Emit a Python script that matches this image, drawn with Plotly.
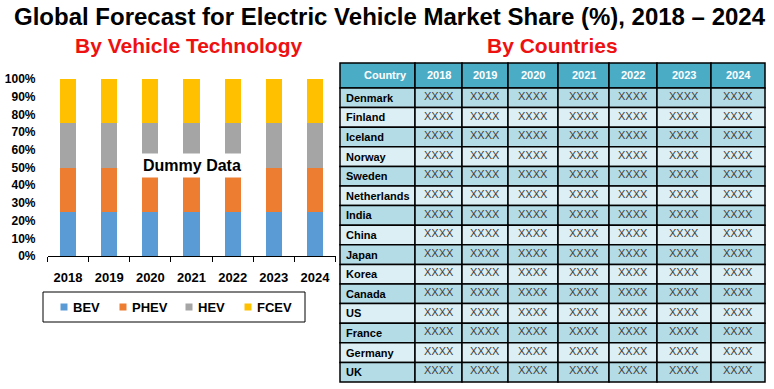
import plotly.graph_objects as go

years = ["2018", "2019", "2020", "2021", "2022", "2023", "2024"]
bev = [25, 25, 25, 25, 25, 25, 25]
phev = [25, 25, 25, 25, 25, 25, 25]
hev = [25, 25, 25, 25, 25, 25, 25]
fcev = [25, 25, 25, 25, 25, 25, 25]
series_names = ["BEV", "PHEV", "HEV", "FCEV"]
series_colors = ["#5B9BD5", "#ED7D31", "#A5A5A5", "#FFC000"]

countries = ["Denmark", "Finland", "Iceland", "Norway", "Sweden", "Netherlands", "India",
             "China", "Japan", "Korea", "Canada", "US", "France", "Germany", "UK"]
table_header = ["Country"] + years
cell_value = "XXXX"

W, H = 774, 389
FONT = "Liberation Sans, Arial, sans-serif"


def px_x(p):
    return p / W


def px_y(p):
    return 1 - p / H


fig = go.Figure()

for name, vals, col in zip(series_names, [bev, phev, hev, fcev], series_colors):
    fig.add_trace(go.Bar(x=years, y=vals, name=name, marker_color=col,
                         marker_line_width=0, showlegend=False))

shapes = []
annotations = []

# ---- legend (drawn as a boxed key under the bar chart) ----
leg_box = (43, 292, 305, 322)
leg_marker_x = [64, 123, 189, 248]
shapes.append(dict(type="rect", xref="paper", yref="paper",
                   x0=px_x(leg_box[0]), x1=px_x(leg_box[2]),
                   y0=px_y(leg_box[3]), y1=px_y(leg_box[1]),
                   line=dict(color="black", width=1), fillcolor="white"))
leg_cy = (leg_box[1] + leg_box[3]) / 2
for name, col, mx in zip(series_names, series_colors, leg_marker_x):
    shapes.append(dict(type="rect", xref="paper", yref="paper",
                       x0=px_x(mx - 3.5), x1=px_x(mx + 3.5),
                       y0=px_y(leg_cy + 3.5), y1=px_y(leg_cy - 3.5),
                       line=dict(width=0), fillcolor=col))
    annotations.append(dict(text="<b>%s</b>" % name, x=px_x(mx + 7), y=px_y(leg_cy),
                            xref="paper", yref="paper", xanchor="left", yanchor="middle",
                            showarrow=False,
                            font=dict(size=13, family=FONT, color="black")))

# ---- table (cells as rectangles, text as annotations) ----
col_widths = [75, 47, 46, 50, 51, 48, 54, 54]
tbl_left, tbl_top, header_h, row_h = 340, 63, 25, 19.6
col_edges = [tbl_left]
for w in col_widths:
    col_edges.append(col_edges[-1] + w)
dark, light = "#B4DCE7", "#DCEFF4"

for j, h in enumerate(table_header):
    x0, x1 = col_edges[j], col_edges[j + 1]
    shapes.append(dict(type="rect", xref="paper", yref="paper",
                       x0=px_x(x0), x1=px_x(x1), y0=px_y(tbl_top + header_h), y1=px_y(tbl_top),
                       line=dict(color="black", width=1.5), fillcolor="#4BACC6"))
    if j == 0:
        ax, xa = x1 - 6, "right"
    else:
        ax, xa = (x0 + x1) / 2, "center"
    annotations.append(dict(text="<b>%s</b>" % h, x=px_x(ax), y=px_y(tbl_top + header_h / 2),
                            xref="paper", yref="paper", xanchor=xa, yanchor="middle",
                            showarrow=False, font=dict(size=11, family=FONT, color="white")))

for i, c in enumerate(countries):
    r0 = tbl_top + header_h + i * row_h
    r1 = r0 + row_h
    fillc = dark if i % 2 == 0 else light
    for j in range(len(table_header)):
        x0, x1 = col_edges[j], col_edges[j + 1]
        shapes.append(dict(type="rect", xref="paper", yref="paper",
                           x0=px_x(x0), x1=px_x(x1), y0=px_y(r1), y1=px_y(r0),
                           line=dict(color="black", width=1.5), fillcolor=fillc))
        if j == 0:
            annotations.append(dict(text="<b>%s</b>" % c, x=px_x(x0 + 4), y=px_y(r0 + row_h / 2),
                                    xref="paper", yref="paper", xanchor="left", yanchor="middle",
                                    showarrow=False,
                                    font=dict(size=11, family=FONT, color="black")))
        else:
            annotations.append(dict(text=cell_value, x=px_x((x0 + x1) / 2), y=px_y(r0 + 8),
                                    xref="paper", yref="paper", xanchor="center", yanchor="middle",
                                    showarrow=False,
                                    font=dict(size=11, family=FONT, color="#404040")))

# ---- titles ----
annotations += [
    dict(text="<b>Global Forecast for Electric Vehicle Market Share (%), 2018 – 2024</b>",
         x=px_x(390), y=px_y(17), xref="paper", yref="paper", showarrow=False,
         xanchor="center", yanchor="middle",
         font=dict(size=24, family=FONT, color="black")),
    dict(text="<b>By Vehicle Technology</b>", x=px_x(188), y=px_y(45), xref="paper",
         yref="paper", showarrow=False, xanchor="center", yanchor="middle",
         font=dict(size=21, family=FONT, color="#EE1111")),
    dict(text="<b>By Countries</b>", x=px_x(552), y=px_y(45), xref="paper",
         yref="paper", showarrow=False, xanchor="center", yanchor="middle",
         font=dict(size=21, family=FONT, color="#EE1111")),
    dict(text="<b>Dummy Data</b>", x=years.index("2021"), y=51, xref="x", yref="y",
         showarrow=False, xanchor="center", yanchor="middle",
         bgcolor="white", borderpad=3, font=dict(size=16, family=FONT, color="black")),
]

fig.update_layout(
    template="none",
    width=W, height=H,
    margin=dict(l=0, r=0, t=0, b=0, autoexpand=False),
    paper_bgcolor="white", plot_bgcolor="white",
    barmode="stack", bargap=0.61,
    showlegend=False,
    font=dict(family=FONT, color="black"),
    xaxis=dict(type="category", domain=[px_x(47.5), px_x(335.5)], range=[-0.5, 6.5],
               showline=True, linecolor="black", linewidth=1,
               ticks="outside", ticklen=5, tickcolor="black", tickson="boundaries",
               tickfont=dict(size=13, family=FONT, color="black", weight="bold"),
               ticklabelstandoff=9, showgrid=False, zeroline=False,
               automargin=False, fixedrange=True),
    yaxis=dict(domain=[px_y(256), px_y(79)], range=[0, 100], dtick=10, ticksuffix="%",
               showline=False, showgrid=False, zeroline=False, ticks="",
               tickfont=dict(size=12, family=FONT, color="black", weight="bold"),
               ticklabelstandoff=11, automargin=False, fixedrange=True),
    shapes=shapes,
    annotations=annotations,
)

fig.write_html("out.html", config={"displayModeBar": False},
               post_script="document.body.style.margin='0';document.body.style.padding='0';")
